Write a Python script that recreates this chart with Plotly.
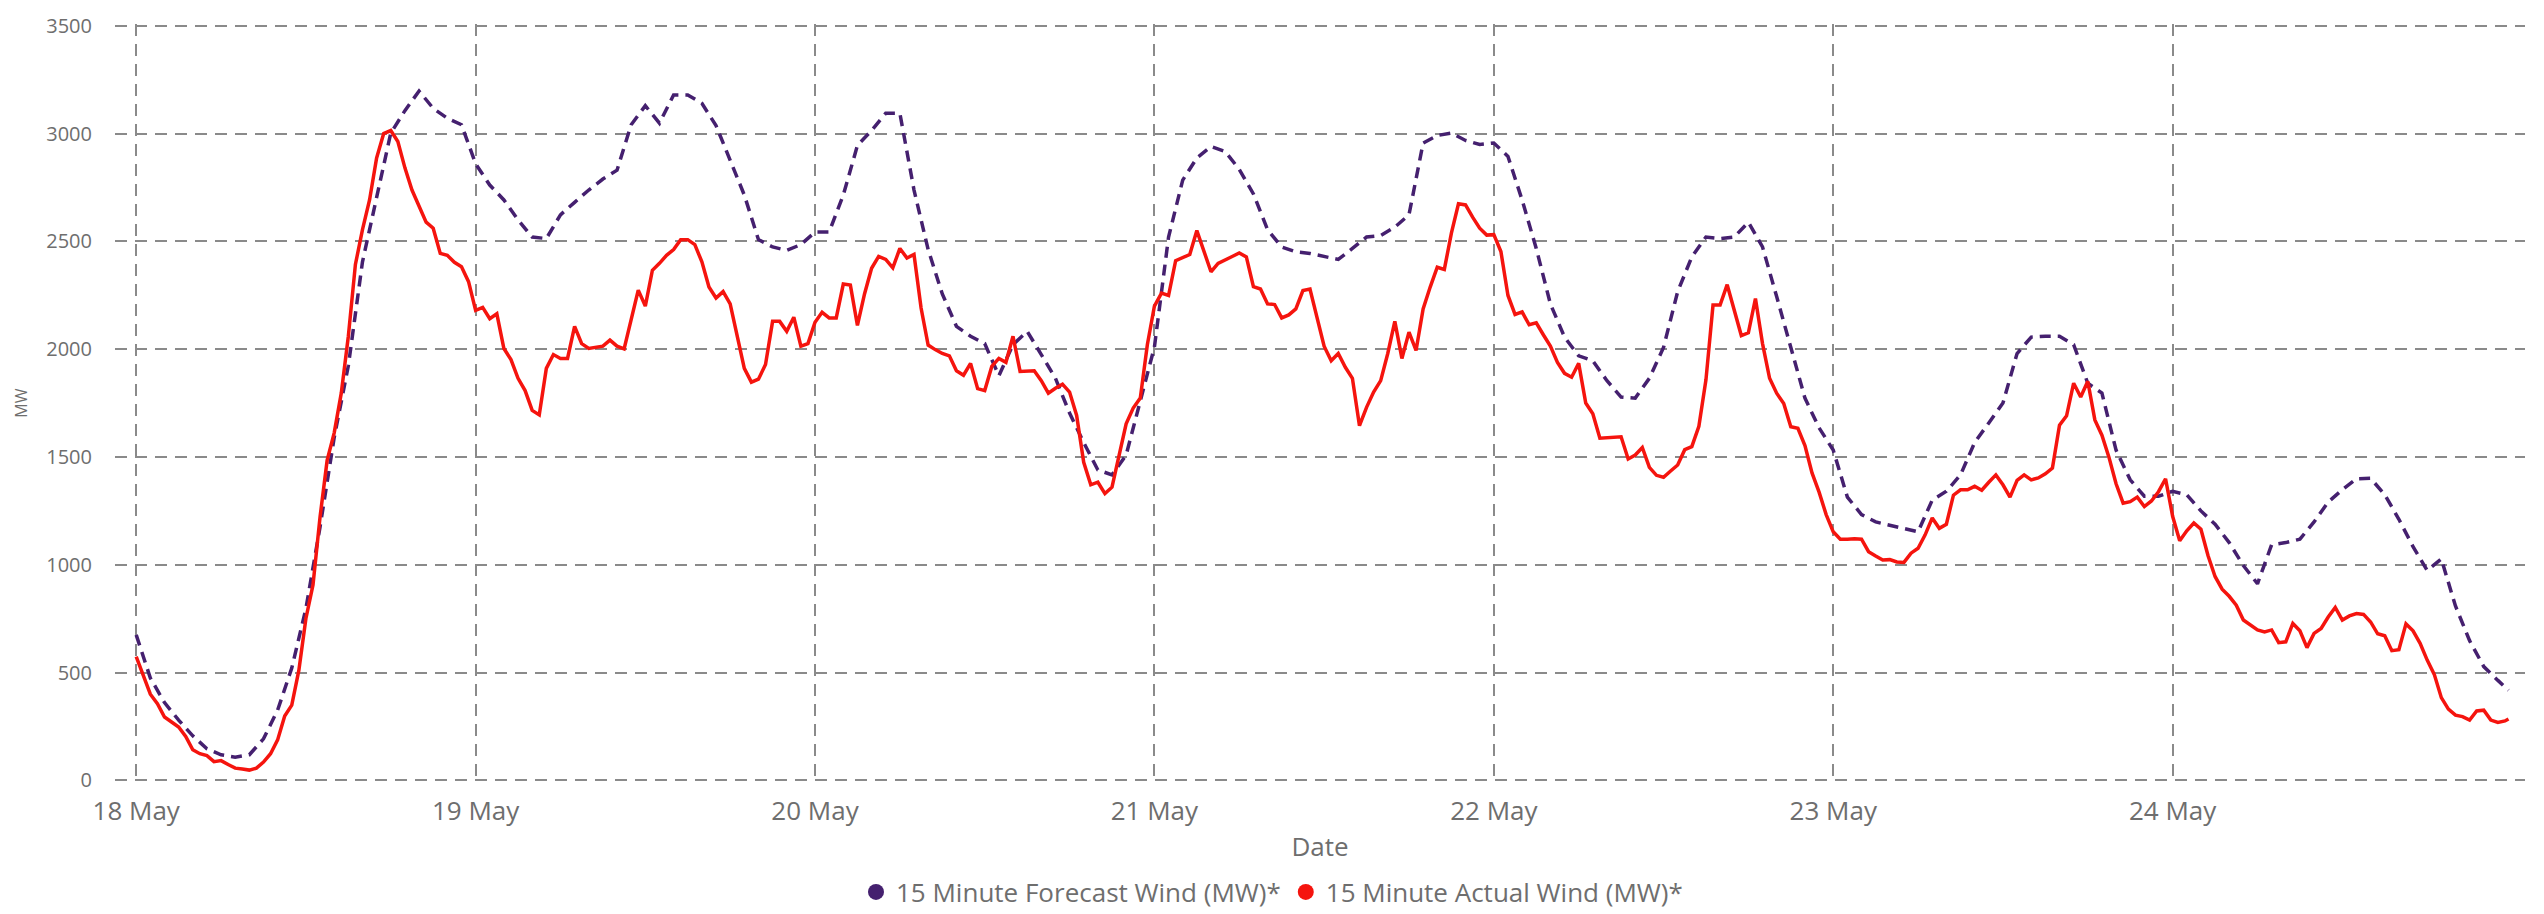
import pandas as pd
import plotly.graph_objects as go

# ---- data ----
day_labels = ["18 May", "19 May", "20 May", "21 May", "22 May", "23 May", "24 May"]
day_starts = ["2024-05-18", "2024-05-19", "2024-05-20", "2024-05-21",
              "2024-05-22", "2024-05-23", "2024-05-24"]
y_ticks = [0, 500, 1000, 1500, 2000, 2500, 3000, 3500]
series_names = ["15 Minute Forecast Wind (MW)*", "15 Minute Actual Wind (MW)*"]

# forecast: hourly readings (MW), 00:00 .. 23:00 each day
forecast_may18 = [675, 475, 361, 280, 207, 147, 119, 108, 119, 193, 326, 521,
                  797, 1176, 1590, 1923, 2405, 2704, 3002, 3106, 3197, 3117, 3071, 3041]
forecast_may19 = [2860, 2761, 2692, 2600, 2520, 2513, 2623, 2681, 2738, 2789, 2830, 3041,
                  3129, 3048, 3179, 3179, 3140, 3037, 2876, 2715, 2508, 2474, 2458, 2485]
forecast_may20 = [2543, 2543, 2715, 2945, 3014, 3094, 3094, 2738, 2462, 2256, 2106, 2060,
                  2026, 1877, 2021, 2083, 1975, 1865, 1704, 1567, 1440, 1417, 1509, 1757]
forecast_may21 = [2010, 2520, 2784, 2887, 2940, 2917, 2834, 2720, 2554, 2474, 2451, 2444,
                  2428, 2416, 2467, 2520, 2527, 2566, 2623, 2956, 2991, 3002, 2968, 2949]
forecast_may22 = [2956, 2894, 2692, 2467, 2210, 2056, 1969, 1946, 1854, 1778, 1773, 1865,
                  2008, 2267, 2428, 2520, 2513, 2520, 2589, 2474, 2244, 2003, 1773, 1635]
forecast_may23 = [1532, 1314, 1233, 1199, 1185, 1169, 1153, 1300, 1341, 1417, 1567, 1658,
                  1750, 1980, 2056, 2060, 2060, 2021, 1842, 1796, 1532, 1394, 1318, 1318]
forecast_may24 = [1341, 1325, 1250, 1188, 1103, 997, 912, 1093, 1103, 1119, 1199, 1291,
                  1348, 1399, 1401, 1325, 1211, 1084, 974, 1027, 809, 648, 528, 464]
forecast_last = 418  # 24 May 23:45

# actual: half-hourly readings (MW), 00:00 .. 23:30 each day
actual_may18 = [574, 482, 400, 356, 294, 271, 248, 204, 142, 124, 115, 87,
                92, 74, 57, 53, 48, 57, 85, 124, 188, 299, 349, 510,
                751, 907, 1222, 1484, 1612, 1796, 2060, 2393, 2554, 2692, 2887, 3000,
                3014, 2963, 2841, 2738, 2665, 2589, 2561, 2444, 2435, 2403, 2382, 2313]
actual_may19 = [2180, 2194, 2141, 2164, 2003, 1952, 1865, 1808, 1716, 1695, 1911, 1975,
                1957, 1957, 2106, 2026, 2003, 2010, 2014, 2042, 2014, 2001, 2136, 2274,
                2200, 2366, 2398, 2435, 2462, 2508, 2508, 2485, 2405, 2288, 2237, 2267,
                2210, 2056, 1911, 1847, 1861, 1929, 2129, 2129, 2083, 2148, 2014, 2026]
actual_may20 = [2125, 2171, 2145, 2145, 2302, 2297, 2110, 2256, 2375, 2430, 2416, 2377,
                2467, 2423, 2439, 2191, 2019, 1998, 1980, 1969, 1900, 1879, 1934, 1817,
                1808, 1920, 1957, 1939, 2060, 1897, 1900, 1900, 1854, 1796, 1819, 1838,
                1801, 1693, 1475, 1371, 1383, 1330, 1360, 1514, 1654, 1727, 1773, 2021]
actual_may21 = [2200, 2260, 2249, 2410, 2423, 2439, 2550, 2448, 2359, 2398, 2416, 2430,
                2446, 2428, 2290, 2279, 2210, 2207, 2145, 2159, 2187, 2272, 2279, 2138,
                2014, 1946, 1980, 1916, 1865, 1645, 1730, 1801, 1854, 1980, 2129, 1957,
                2079, 1994, 2187, 2288, 2380, 2370, 2538, 2674, 2669, 2612, 2561, 2529]
actual_may22 = [2531, 2453, 2249, 2161, 2173, 2113, 2122, 2067, 2014, 1939, 1888, 1870,
                1934, 1750, 1700, 1587, 1590, 1590, 1594, 1491, 1509, 1544, 1452, 1415,
                1406, 1435, 1463, 1534, 1548, 1642, 1858, 2205, 2205, 2299, 2173, 2063,
                2076, 2235, 2026, 1865, 1796, 1748, 1640, 1633, 1553, 1426, 1337, 1233]
actual_may23 = [1153, 1119, 1119, 1121, 1119, 1061, 1041, 1022, 1024, 1013, 1011, 1054,
                1077, 1139, 1217, 1169, 1188, 1323, 1348, 1348, 1364, 1346, 1383, 1417,
                1371, 1314, 1392, 1417, 1394, 1403, 1422, 1449, 1647, 1691, 1842, 1778,
                1851, 1672, 1601, 1498, 1376, 1286, 1293, 1314, 1270, 1296, 1339, 1399]
actual_may24 = [1225, 1112, 1158, 1194, 1165, 1043, 946, 887, 854, 813, 744, 721,
                698, 689, 698, 639, 643, 728, 694, 616, 682, 705, 758, 802,
                744, 763, 774, 770, 735, 680, 671, 602, 606, 726, 694, 636,
                558, 492, 384, 331, 303, 296, 280, 322, 326, 280, 269, 276]
actual_last = 285  # 24 May 23:45

# ---- assemble ----
last_time = pd.Timestamp("2024-05-24 23:45")
forecast_times = list(pd.date_range("2024-05-18 00:00", periods=168, freq="h")) + [last_time]
actual_times = list(pd.date_range("2024-05-18 00:00", periods=336, freq="30min")) + [last_time]
forecast = (forecast_may18 + forecast_may19 + forecast_may20 + forecast_may21 +
            forecast_may22 + forecast_may23 + forecast_may24 + [forecast_last])
actual = (actual_may18 + actual_may19 + actual_may20 + actual_may21 +
          actual_may22 + actual_may23 + actual_may24 + [actual_last])

FORECAST_COLOR = "#45206f"
ACTUAL_COLOR = "#f5140e"
GRID = "#8a8a8a"
TEXT = "#6e6e6e"
FONT = "Segoe UI, Open Sans, sans-serif"

fig = go.Figure()
fig.add_trace(go.Scatter(x=forecast_times, y=forecast, mode="lines", name=series_names[0],
                         line=dict(color=FORECAST_COLOR, width=3.5, dash="11px,7px"),
                         showlegend=False))
fig.add_trace(go.Scatter(x=actual_times, y=actual, mode="lines", name=series_names[1],
                         line=dict(color=ACTUAL_COLOR, width=3.5), showlegend=False))
# legend entries (circle markers, as in the original legend)
fig.add_trace(go.Scatter(x=[None], y=[None], mode="markers", name=series_names[0],
                         marker=dict(color=FORECAST_COLOR, size=16)))
fig.add_trace(go.Scatter(x=[None], y=[None], mode="markers", name=series_names[1],
                         marker=dict(color=ACTUAL_COLOR, size=16)))

fig.update_layout(
    width=2544, height=914,
    margin=dict(l=115, r=19, t=13, b=131),
    plot_bgcolor="white", paper_bgcolor="white",
    font=dict(family=FONT, color=TEXT),
    legend=dict(orientation="h", xref="container", yref="container",
                x=0.5, xanchor="center", y=0.024, yanchor="middle",
                font=dict(size=26, color=TEXT), itemwidth=30,
                tracegroupgap=0),
    hovermode="x unified",
)
fig.update_xaxes(
    type="date",
    range=["2024-05-17 22:30", "2024-05-25 00:55"],
    tickvals=day_starts, ticktext=day_labels,
    tickfont=dict(size=26, color=TEXT),
    ticks="outside", ticklen=6, tickcolor="rgba(0,0,0,0)",
    showgrid=True, gridcolor=GRID, gridwidth=2, griddash="12px,8px",
    showline=False, zeroline=False,
    title=dict(text="Date", font=dict(size=26, color=TEXT), standoff=10),
)
fig.update_yaxes(
    range=[-8, 3508], tickvals=y_ticks,
    tickfont=dict(size=20, color=TEXT),
    ticks="outside", ticklen=18, tickcolor="rgba(0,0,0,0)",
    showgrid=True, gridcolor=GRID, gridwidth=2, griddash="12px,8px",
    showline=False, zeroline=False,
    title=dict(text="MW", font=dict(size=16, color=TEXT), standoff=14),
)

fig.write_html("out.html", config={"displayModeBar": False},
               post_script="document.body.style.margin='0';document.body.style.overflow='hidden';")
